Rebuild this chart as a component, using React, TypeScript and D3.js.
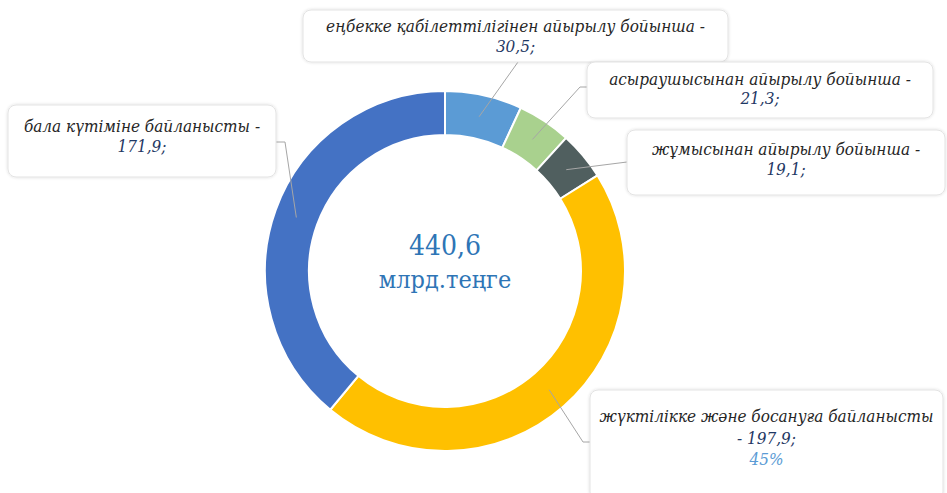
import React from "react";
import * as d3 from "d3";

// данные (млрд. теңге)
const categories = [
  "еңбекке қабілеттілігінен айырылу бойынша -",
  "асыраушысынан айырылу бойынша -",
  "жұмысынан айырылу бойынша -",
  "жүктілікке және босануға байланысты",
  "бала күтіміне байланысты -",
];
const values = [30.5, 21.3, 19.1, 197.9, 171.9];
const valueLabels = ["30,5;", "21,3;", "19,1;", "- 197,9;", "171,9;"];
const percentLabels = ["", "", "", "45%", ""];
const colors = ["#5b9bd5", "#a9d18e", "#505f5f", "#ffc000", "#4472c4"];
const totalLabel = "440,6";
const unitLabel = "млрд.теңге";

// label boxes, first baseline, line step and leader routes
const boxes = [
  { x: 303, y: 10, w: 425, h: 52, base: 32, step: 20, route: [[518, 62]] },
  { x: 587, y: 62, w: 346, h: 56, base: 85, step: 19, route: [[580, 87], [587, 87]] },
  { x: 627, y: 130, w: 318, h: 65, base: 155, step: 20, route: [[627, 162]] },
  { x: 590, y: 390, w: 353, h: 110, base: 422, step: 21.5, route: [[583, 442], [590, 442]] },
  { x: 8, y: 105, w: 268, h: 72, base: 132, step: 20, route: [[285, 142], [276, 142]] },
];

const W = 947;
const H = 493;
const cx = 445;
const cy = 271;
const outerR = 180;
const innerR = 136;
const serif = "DejaVu Serif Condensed, DejaVu Serif, serif";

export default function App() {
  const pie = d3
    .pie<number>()
    .sort(null)
    .value((d) => d);
  const arcs = pie(values);
  const arc = d3.arc<d3.PieArcDatum<number>>().innerRadius(innerR).outerRadius(outerR);
  const mid = d3
    .arc<d3.PieArcDatum<number>>()
    .innerRadius((innerR + outerR) / 2)
    .outerRadius((innerR + outerR) / 2);
  const line = d3.line();

  return (
    <svg width={W} height={H} style={{ position: "absolute", left: 0, top: 0, background: "#fff" }}>
      <defs>
        <filter id="sh" x="-10%" y="-20%" width="120%" height="140%">
          <feDropShadow dx="0" dy="0" stdDeviation="1.5" floodColor="#000" floodOpacity="0.15" />
        </filter>
      </defs>
      <g transform={`translate(${cx},${cy})`}>
        {arcs.map((a, i) => (
          <path key={i} d={arc(a) || ""} fill={colors[i]} stroke="#fff" strokeWidth={2} />
        ))}
      </g>
      {arcs.map((a, i) => {
        const [mx, my] = mid.centroid(a);
        const pts: [number, number][] = [[cx + mx, cy + my], ...(boxes[i].route as [number, number][])];
        return <path key={i} d={line(pts) || ""} fill="none" stroke="#a6a6a6" strokeWidth={1} />;
      })}
      {boxes.map((b, i) => {
        const tx = b.x + b.w / 2;
        const lines = [
          { t: categories[i], c: "#262626" },
          { t: valueLabels[i], c: "#1f3864" },
          { t: percentLabels[i], c: "#5b9bd5" },
        ].filter((l) => l.t);
        return (
          <g key={i}>
            <rect x={b.x} y={b.y} width={b.w} height={b.h} rx={8} fill="#fff" stroke="#e3e3e3" filter="url(#sh)" />
            {lines.map((l, j) => (
              <text
                key={j}
                x={tx}
                y={b.base + j * b.step}
                textAnchor="middle"
                style={{ fontFamily: serif, fontStyle: "italic", fontSize: 17 }}
                fill={l.c}
              >
                {l.t}
              </text>
            ))}
          </g>
        );
      })}
      <text x={cx} y={255} textAnchor="middle" style={{ fontFamily: serif, fontSize: 28 }} fill="#2e75b6">
        {totalLabel}
      </text>
      <text x={cx} y={288} textAnchor="middle" style={{ fontFamily: serif, fontSize: 25 }} fill="#2e75b6">
        {unitLabel}
      </text>
    </svg>
  );
}
